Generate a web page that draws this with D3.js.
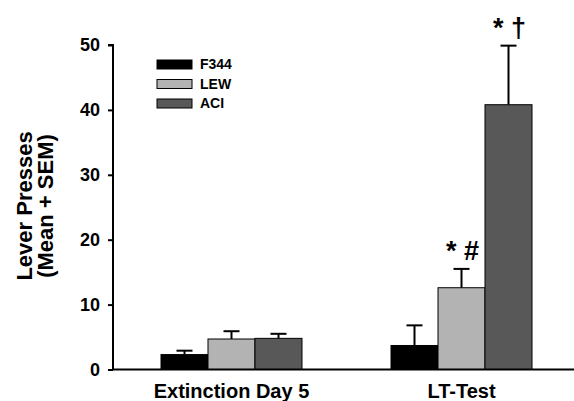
<!DOCTYPE html>
<html>
<head>
<meta charset="utf-8">
<script src="https://cdn.jsdelivr.net/npm/d3@7"></script>
<style>
body{margin:0;background:#fff;}
text{font-family:"Liberation Sans",Arial,sans-serif;font-weight:bold;}
</style>
</head>
<body>
<div id="chart-area"></div>
<script>
let groups=["Extinction Day 5","LT-Test"];
let strains=["F344","LEW","ACI"];
let means={F344:[2.3,3.7],LEW:[4.7,12.6],ACI:[4.8,40.8]};
let sems={F344:[0.6,3.1],LEW:[1.2,2.9],ACI:[0.7,9.1]};
let marks={F344:["",""],LEW:["","* #"],ACI:["","* \u2020"]};
let yTicks=[0,10,20,30,40,50];
let fills=["#000000","#b3b3b3","#585858"];

let W=574,H=401;
let margin={top:45,right:0,left:113,bottom:32};
let width=W-margin.left-margin.right;
let height=324.5;

let svg=d3.select("#chart-area").append('svg')
	.attr('width',W)
	.attr('height',H);

let g=svg.append('g')
	.attr("transform","translate("+margin.left+","+margin.top+")");

//---------SCALES--------------
let y=d3.scaleLinear().domain([0,50]).range([height,0]);

let x0=d3.scaleBand()
	.domain(groups)
	.range([48,419])
	.paddingInner(0.387)
	.paddingOuter(0);

let x1=d3.scaleBand().domain(strains).range([0,x0.bandwidth()]);

let color=d3.scaleOrdinal().domain(strains).range(fills);

//-------AXES------------------
let yAxis=d3.axisLeft(y).tickValues(yTicks).tickSize(5).tickPadding(8);
let yAxisGroup=g.append('g').call(yAxis);
yAxisGroup.select('.domain').attr('stroke-width',2).attr('d','M-5,0H0V'+height);
yAxisGroup.selectAll('.tick line').attr('stroke-width',2);
yAxisGroup.selectAll('.tick text').attr('font-size','18px').attr('fill','#000')
	.style('font-family','"Liberation Sans",Arial,sans-serif').style('font-weight','bold');

//--------BARS-----------------
strains.forEach(function(s){
	groups.forEach(function(gname,i){
		let bx=x0(gname)+x1(s);
		let bw=x1.bandwidth();
		let cx=bx+bw/2;
		let top=y(means[s][i]+sems[s][i]);
		// error bar (upper only)
		g.append('line')
			.attr('x1',cx).attr('x2',cx)
			.attr('y1',y(means[s][i])).attr('y2',top)
			.attr('stroke','#000').attr('stroke-width',2);
		g.append('line')
			.attr('x1',cx-8).attr('x2',cx+8)
			.attr('y1',top).attr('y2',top)
			.attr('stroke','#000').attr('stroke-width',2);
		g.append('rect')
			.attr('x',bx).attr('width',bw)
			.attr('y',y(means[s][i])).attr('height',y(0)-y(means[s][i]))
			.attr('fill',color(s)).attr('stroke','#000').attr('stroke-width',1);
		if(marks[s][i]){
			g.append('text')
				.attr('x',cx+1)
				.attr('y',top-9)
				.attr('text-anchor','middle')
				.attr('font-size','27px')
				.text(marks[s][i]);
		}
	});
});

// x axis line
g.append('line')
	.attr('x1',0).attr('x2',width)
	.attr('y1',y(0)).attr('y2',y(0))
	.attr('stroke','#000').attr('stroke-width',2);

groups.forEach(function(gname){
	g.append('text')
		.attr('x',x0(gname)+x0.bandwidth()/2)
		.attr('y',y(0)+28)
		.attr('text-anchor','middle')
		.attr('font-size','20px')
		.text(gname);
});

//------LABELS----------------
let yLabel=g.append('text')
	.attr('transform','rotate(-90)')
	.attr('text-anchor','middle')
	.attr('font-size','22px');
yLabel.append('tspan').attr('x',-161).attr('y',-81).text('Lever Presses');
yLabel.append('tspan').attr('x',-161).attr('y',-60).text('(Mean + SEM)');

//--------LEGEND--------------
let legend=svg.append('g').attr("transform","translate(157,60)");
strains.forEach(function(s,i){
	let row=legend.append('g').attr("transform","translate(0,"+i*19.5+")");
	row.append('rect')
		.attr('width',35).attr('height',9)
		.attr('fill',color(s)).attr('stroke','#000').attr('stroke-width',1);
	row.append('text')
		.attr('x',43).attr('y',9)
		.attr('font-size','14px')
		.text(s);
});
</script>
</body>
</html>
